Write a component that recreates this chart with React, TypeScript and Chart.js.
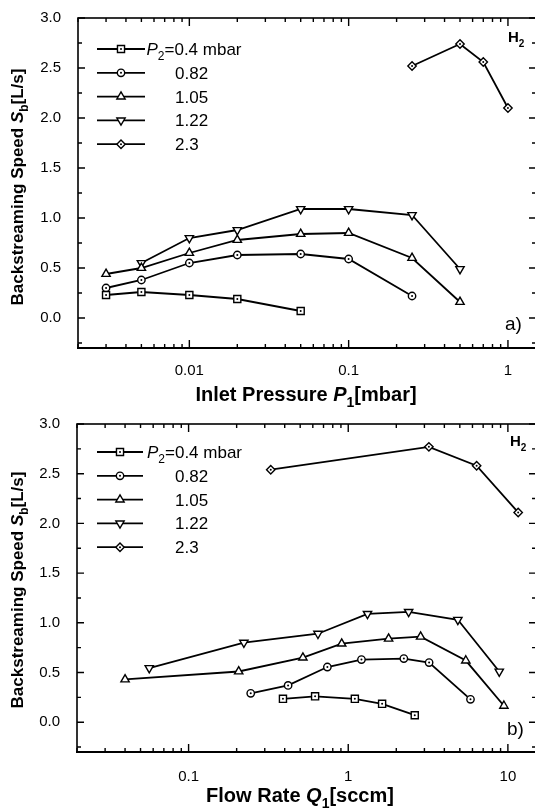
import React, { useEffect, useRef } from 'react';
import { Chart, registerables } from 'chart.js';

Chart.register(...registerables);

const FONT = '"Liberation Sans", Arial, Helvetica, sans-serif';

// ---------- shared ----------
const seriesLabels = ['0.4', '0.82', '1.05', '1.22', '2.3'];
const pointStyles = ['rect', 'circle', 'triangle', 'triangle', 'rectRot'];
const pointRotations = [0, 0, 0, 180, 0];
const pointRadii = [5, 3.7, 4.8, 4.8, 4.2];
const yTickValues = [0, 0.5, 1.0, 1.5, 2.0, 2.5, 3.0];

// ---------- chart a) : inlet pressure P1 [mbar] ----------
const aXTickValues = [0.01, 0.1, 1];
const a_x_04 = [0.003, 0.005, 0.01, 0.02, 0.05];
const a_y_04 = [0.23, 0.26, 0.23, 0.19, 0.07];
const a_x_082 = [0.003, 0.005, 0.01, 0.02, 0.05, 0.1, 0.25];
const a_y_082 = [0.30, 0.38, 0.55, 0.63, 0.64, 0.59, 0.22];
const a_x_105 = [0.003, 0.005, 0.01, 0.02, 0.05, 0.1, 0.25, 0.5];
const a_y_105 = [0.44, 0.50, 0.65, 0.78, 0.84, 0.85, 0.60, 0.16];
const a_x_122 = [0.005, 0.01, 0.02, 0.05, 0.1, 0.25, 0.5];
const a_y_122 = [0.55, 0.80, 0.88, 1.09, 1.09, 1.03, 0.49];
const a_x_23 = [0.25, 0.5, 0.7, 1.0];
const a_y_23 = [2.52, 2.74, 2.56, 2.10];

// ---------- chart b) : flow rate Q1 [sccm] ----------
const bXTickValues = [0.1, 1, 10];
const b_x_04 = [0.39, 0.62, 1.10, 1.63, 2.61];
const b_y_04 = [0.235, 0.26, 0.235, 0.185, 0.07];
const b_x_082 = [0.245, 0.42, 0.74, 1.21, 2.23, 3.21, 5.83];
const b_y_082 = [0.29, 0.37, 0.555, 0.63, 0.64, 0.60, 0.23];
const b_x_105 = [0.04, 0.206, 0.52, 0.91, 1.79, 2.84, 5.45, 9.44];
const b_y_105 = [0.43, 0.51, 0.65, 0.79, 0.84, 0.86, 0.62, 0.165];
const b_x_122 = [0.0567, 0.222, 0.646, 1.32, 2.39, 4.86, 8.83];
const b_y_122 = [0.545, 0.80, 0.89, 1.09, 1.11, 1.03, 0.51];
const b_x_23 = [0.327, 3.2, 6.37, 11.6];
const b_y_23 = [2.54, 2.77, 2.58, 2.11];

type Part = { t: string; italic?: boolean; sub?: boolean; bold?: boolean };

function drawRich(ctx: CanvasRenderingContext2D, parts: Part[], x: number, y: number, size: number, align: 'left' | 'center') {
  const fonts = parts.map(
    (p) => `${p.italic ? 'italic ' : ''}${p.bold ? 'bold ' : ''}${p.sub ? Math.round(size * 0.68) : size}px ${FONT}`
  );
  let total = 0;
  const widths = parts.map((p, i) => {
    ctx.font = fonts[i];
    const w = ctx.measureText(p.t).width;
    total += w;
    return w;
  });
  let cx = align === 'center' ? x - total / 2 : x;
  ctx.textAlign = 'left';
  ctx.textBaseline = 'alphabetic';
  parts.forEach((p, i) => {
    ctx.font = fonts[i];
    ctx.fillText(p.t, cx, y + (p.sub ? size * 0.3 : 0));
    cx += widths[i];
  });
}

function drawMarker(ctx: CanvasRenderingContext2D, style: string, rotDeg: number, x: number, y: number, r: number) {
  ctx.beginPath();
  if (style === 'rect') {
    const s = r * Math.SQRT1_2;
    ctx.rect(x - s, y - s, 2 * s, 2 * s);
  } else if (style === 'circle') {
    ctx.arc(x, y, r, 0, Math.PI * 2);
  } else if (style === 'triangle') {
    let rad = (rotDeg * Math.PI) / 180;
    ctx.moveTo(x + Math.sin(rad) * r, y - Math.cos(rad) * r);
    rad += (2 * Math.PI) / 3;
    ctx.lineTo(x + Math.sin(rad) * r, y - Math.cos(rad) * r);
    rad += (2 * Math.PI) / 3;
    ctx.lineTo(x + Math.sin(rad) * r, y - Math.cos(rad) * r);
    ctx.closePath();
  } else {
    ctx.moveTo(x, y - r);
    ctx.lineTo(x + r, y);
    ctx.lineTo(x, y + r);
    ctx.lineTo(x - r, y);
    ctx.closePath();
  }
  ctx.fillStyle = '#fff';
  ctx.fill();
  ctx.stroke();
  if (style !== 'triangle') {
    ctx.beginPath();
    ctx.arc(x, y, 1, 0, Math.PI * 2);
    ctx.fillStyle = '#000';
    ctx.fill();
  }
}

type Spec = {
  xs: number[][];
  ys: number[][];
  xMin: number;
  xMax: number;
  xTicks: number[];
  left: number;
  top: number;
  height: number;
  width: number;
  bottom: number;
  right: number;
  xLabelPad: number;
  xTitle: Part[];
  xTitleX: number;
  xTitleBase: number;
  yTitleBaseX: number;
  yTitleCY: number;
  legendY0: number;
  legendLine: [number, number];
  legendMarkX: number;
  legendPX: number;
  legendNumX: number;
  h2: [number, number];
  tag: string;
  tagPos: [number, number];
};

function makeDecorPlugin(spec: Spec) {
  return {
    id: 'decor',
    afterDatasetsDraw(chart: any) {
      const ctx: CanvasRenderingContext2D = chart.ctx;
      ctx.save();
      chart.data.datasets.forEach((ds: any, i: number) => {
        if (ds.pointStyle === 'triangle') return;
        const meta = chart.getDatasetMeta(i);
        meta.data.forEach((el: any) => {
          ctx.beginPath();
          ctx.arc(el.x, el.y, 1, 0, Math.PI * 2);
          ctx.fillStyle = '#000';
          ctx.fill();
        });
      });
      ctx.restore();
    },
    afterDraw(chart: any) {
      const ctx: CanvasRenderingContext2D = chart.ctx;
      const { left, right, top, bottom } = chart.chartArea;
      const xs = chart.scales.x;
      const ys = chart.scales.y;
      ctx.save();
      ctx.strokeStyle = '#000';
      ctx.fillStyle = '#000';
      // frame
      ctx.lineWidth = 1.6;
      ctx.strokeRect(left, top, right - left, bottom - top);
      ctx.lineWidth = 2.2;
      ctx.beginPath();
      ctx.moveTo(left - 1, bottom);
      ctx.lineTo(right + 1, bottom);
      ctx.stroke();
      ctx.lineWidth = 1.4;
      // x ticks (log decades, major + minor)
      const d0 = Math.floor(Math.log10(spec.xMin));
      const d1 = Math.ceil(Math.log10(spec.xMax));
      for (let d = d0; d <= d1; d++) {
        for (let m = 1; m <= 9; m++) {
          const v = m * Math.pow(10, d);
          if (v < spec.xMin || v > spec.xMax) continue;
          const px = xs.getPixelForValue(v);
          const len = m === 1 ? 8 : 4;
          ctx.beginPath();
          ctx.moveTo(px, bottom);
          ctx.lineTo(px, bottom - len);
          ctx.moveTo(px, top);
          ctx.lineTo(px, top + len);
          ctx.stroke();
        }
      }
      // y ticks every 0.25
      for (let k = -1; k <= 12; k++) {
        const v = k * 0.25;
        const py = ys.getPixelForValue(v);
        const len = k % 2 === 0 ? 7 : 4;
        ctx.beginPath();
        ctx.moveTo(left, py);
        ctx.lineTo(left + len, py);
        ctx.moveTo(right, py);
        ctx.lineTo(right - len, py);
        ctx.stroke();
      }
      // x axis title
      drawRich(ctx, spec.xTitle, spec.xTitleX, spec.xTitleBase, 20, 'center');
      // y axis title (rotated)
      ctx.save();
      ctx.translate(spec.yTitleBaseX, spec.yTitleCY);
      ctx.rotate(-Math.PI / 2);
      drawRich(
        ctx,
        [
          { t: 'Backstreaming Speed ', bold: true },
          { t: 'S', bold: true, italic: true },
          { t: 'b', bold: true, sub: true },
          { t: '[L/s]', bold: true },
        ],
        0,
        0,
        17,
        'center'
      );
      ctx.restore();
      // legend
      seriesLabels.forEach((lab, i) => {
        const yy = spec.legendY0 + i * 23.8;
        ctx.strokeStyle = '#000';
        ctx.lineWidth = 1.8;
        ctx.beginPath();
        ctx.moveTo(spec.legendLine[0], yy);
        ctx.lineTo(spec.legendLine[1], yy);
        ctx.stroke();
        ctx.lineWidth = 1.4;
        drawMarker(ctx, pointStyles[i], pointRotations[i], spec.legendMarkX, yy, pointRadii[i]);
        ctx.fillStyle = '#000';
        if (i === 0) {
          drawRich(ctx, [{ t: 'P', italic: true }, { t: '2', sub: true }, { t: '=' + lab + ' mbar' }], spec.legendPX, yy + 6, 17, 'left');
        } else {
          drawRich(ctx, [{ t: lab }], spec.legendNumX, yy + 6, 17, 'left');
        }
      });
      // H2 label
      ctx.fillStyle = '#000';
      drawRich(ctx, [{ t: 'H', bold: true }, { t: '2', bold: true, sub: true }], spec.h2[0], spec.h2[1], 15, 'left');
      // panel tag
      drawRich(ctx, [{ t: spec.tag }], spec.tagPos[0], spec.tagPos[1], 19, 'left');
      ctx.restore();
    },
  };
}

function makeConfig(spec: Spec): any {
  const datasets = seriesLabels.map((lab, i) => ({
    label: lab,
    data: spec.xs[i].map((x, j) => ({ x, y: spec.ys[i][j] })),
    borderColor: '#000',
    borderWidth: 1.8,
    pointStyle: pointStyles[i],
    rotation: pointRotations[i],
    pointRotation: pointRotations[i],
    pointRadius: pointRadii[i],
    pointBackgroundColor: '#fff',
    pointBorderColor: '#000',
    pointBorderWidth: 1.4,
    fill: false,
    tension: 0,
  }));
  return {
    type: 'line',
    data: { datasets },
    options: {
      responsive: false,
      animation: false,
      events: [],
      layout: { padding: { top: spec.top, right: spec.width - spec.right, left: 0, bottom: 0 } },
      plugins: { legend: { display: false }, tooltip: { enabled: false } },
      scales: {
        x: {
          type: 'logarithmic',
          min: spec.xMin,
          max: spec.xMax,
          grid: { display: false },
          border: { display: false },
          ticks: {
            color: '#000',
            font: { family: FONT, size: 15 },
            padding: spec.xLabelPad,
            maxRotation: 0,
            autoSkip: false,
            callback: (v: number) => String(v),
          },
          afterBuildTicks: (s: any) => {
            s.ticks = spec.xTicks.map((v) => ({ value: v }));
          },
          afterFit: (s: any) => {
            s.height = spec.height - spec.bottom;
          },
        },
        y: {
          type: 'linear',
          min: -0.3,
          max: 3.0,
          grid: { display: false },
          border: { display: false },
          ticks: {
            color: '#000',
            font: { family: FONT, size: 15 },
            padding: 9,
            autoSkip: false,
            callback: (v: number) => Number(v).toFixed(1),
          },
          afterBuildTicks: (s: any) => {
            s.ticks = yTickValues.map((v) => ({ value: v }));
          },
          afterFit: (s: any) => {
            s.width = spec.left;
          },
        },
      },
    },
    plugins: [makeDecorPlugin(spec)],
  };
}

const specA: Spec = {
  xs: [a_x_04, a_x_082, a_x_105, a_x_122, a_x_23],
  ys: [a_y_04, a_y_082, a_y_105, a_y_122, a_y_23],
  xMin: 0.002,
  xMax: 1.5,
  xTicks: aXTickValues,
  left: 78,
  top: 15,
  height: 412,
  width: 545,
  bottom: 348,
  right: 536,
  xLabelPad: 6,
  xTitle: [
    { t: 'Inlet Pressure ', bold: true },
    { t: 'P', bold: true, italic: true },
    { t: '1', bold: true, sub: true },
    { t: '[mbar]', bold: true },
  ],
  xTitleX: 306,
  xTitleBase: 401,
  yTitleBaseX: 23,
  yTitleCY: 187,
  legendY0: 49,
  legendLine: [97, 145],
  legendMarkX: 121,
  legendPX: 146.5,
  legendNumX: 175,
  h2: [508, 42],
  tag: 'a)',
  tagPos: [505, 330],
};

const specB: Spec = {
  xs: [b_x_04, b_x_082, b_x_105, b_x_122, b_x_23],
  ys: [b_y_04, b_y_082, b_y_105, b_y_122, b_y_23],
  xMin: 0.02,
  xMax: 15,
  xTicks: bXTickValues,
  left: 77,
  top: 20,
  height: 405,
  width: 545,
  bottom: 348,
  right: 536,
  xLabelPad: 8,
  xTitle: [
    { t: 'Flow Rate ', bold: true },
    { t: 'Q', bold: true, italic: true },
    { t: '1', bold: true, sub: true },
    { t: '[sccm]', bold: true },
  ],
  xTitleX: 300,
  xTitleBase: 398,
  yTitleBaseX: 23,
  yTitleCY: 186,
  legendY0: 48,
  legendLine: [97, 143],
  legendMarkX: 120,
  legendPX: 147,
  legendNumX: 175,
  h2: [510, 42],
  tag: 'b)',
  tagPos: [507, 331],
};

export default function App() {
  const refA = useRef<HTMLCanvasElement>(null);
  const refB = useRef<HTMLCanvasElement>(null);
  useEffect(() => {
    const ca = new Chart(refA.current as HTMLCanvasElement, makeConfig(specA));
    const cb = new Chart(refB.current as HTMLCanvasElement, makeConfig(specB));
    return () => {
      ca.destroy();
      cb.destroy();
    };
  }, []);
  return (
    <div
      style={{
        position: 'absolute',
        left: 0,
        top: 0,
        width: 535,
        height: 809,
        overflow: 'hidden',
        background: '#fff',
      }}
    >
      <canvas
        ref={refA}
        width={545}
        height={412}
        style={{ position: 'absolute', left: 0, top: 0, display: 'block', width: 545, height: 412 }}
      />
      <canvas
        ref={refB}
        width={545}
        height={405}
        style={{ position: 'absolute', left: 0, top: 404, display: 'block', width: 545, height: 405 }}
      />
    </div>
  );
}
